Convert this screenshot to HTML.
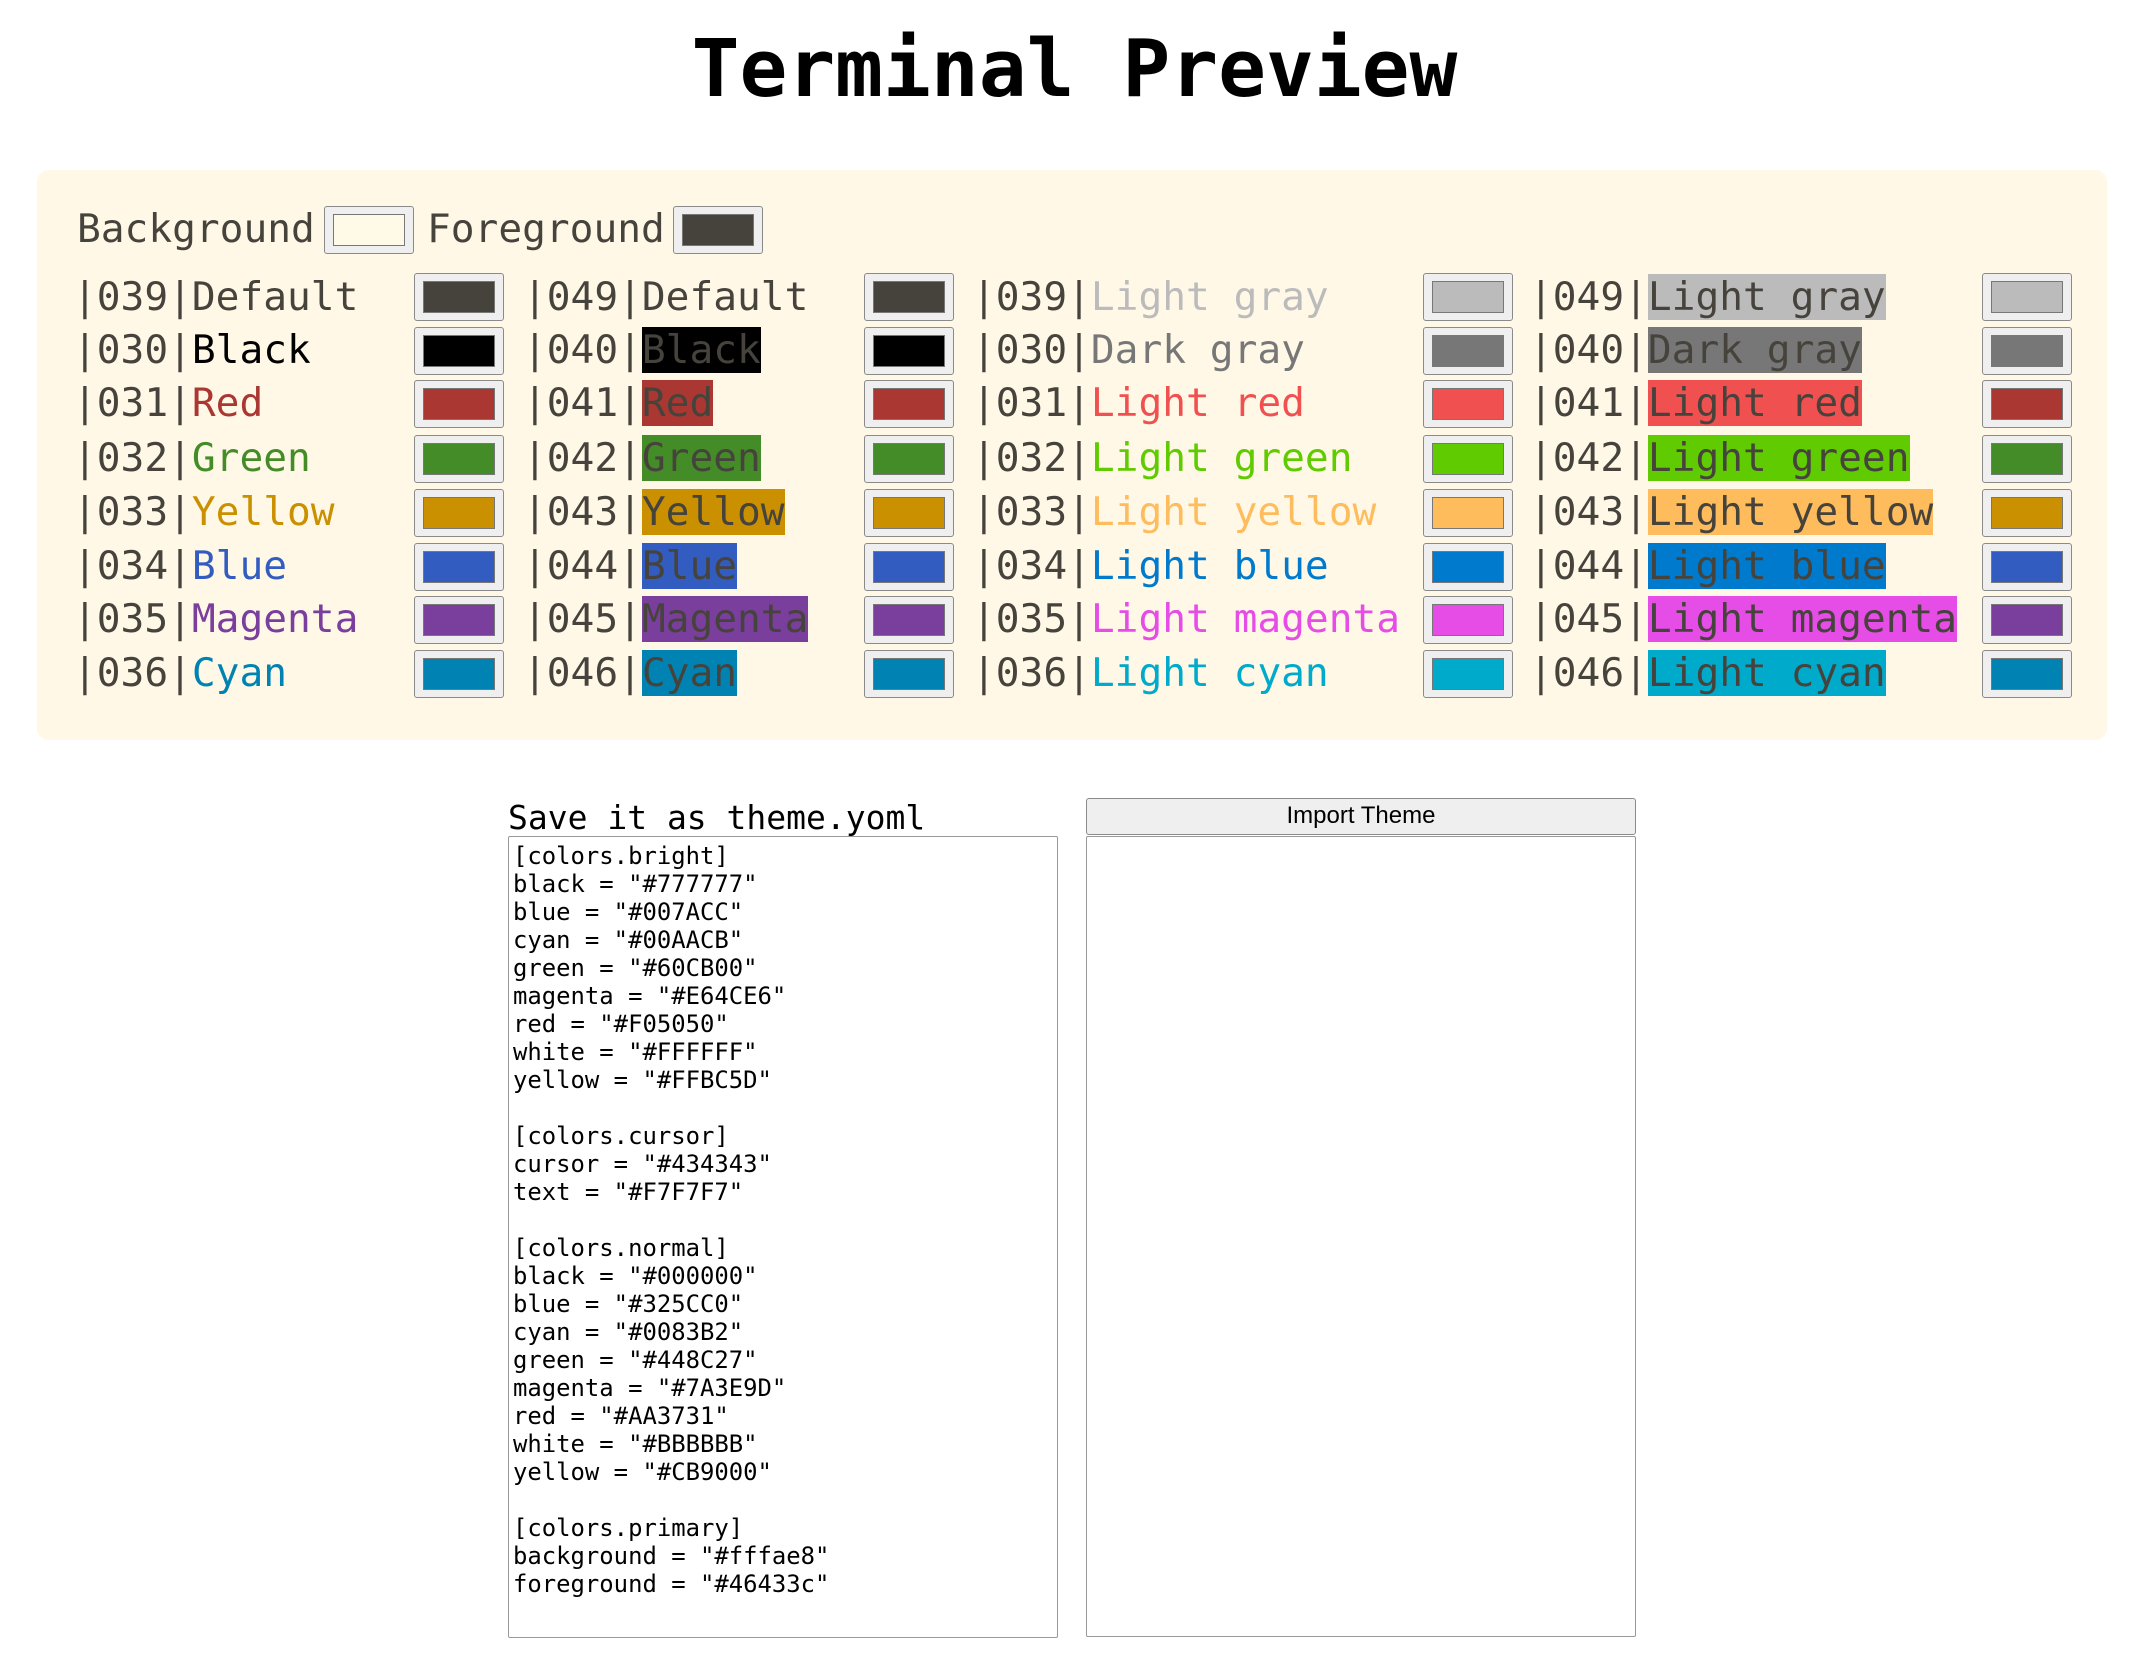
<!DOCTYPE html>
<html><head><meta charset="utf-8"><style>
*{box-sizing:border-box;margin:0;padding:0}
body{width:2149px;height:1659px;background:#fff;position:relative;overflow:hidden;font-family:"DejaVu Sans Mono","Liberation Mono",monospace;color:#46433c}
h1{position:absolute;left:0;width:2149px;top:19px;text-align:center;font-size:79.5px;font-weight:bold;color:#000;line-height:100px}
.panel{position:absolute;left:37px;top:170px;width:2070px;height:570px;background:#fff8e7;border-radius:12px}
.t{position:absolute;font-size:39.5px;line-height:48px;white-space:pre;margin-left:-4px}
.t span{line-height:46px;display:inline-block}
.sw{position:absolute;width:90px;height:48px;background:#efefef;border:1.5px solid #8a8a8a;border-radius:3px}
.sw i{position:absolute;left:8px;right:8px;top:7px;bottom:7px;border:1px solid #777}
.lab{position:absolute;font-size:33px;line-height:40px;white-space:pre;color:#000}
.ta{position:absolute;border:1.5px solid #999;background:#fff;border-radius:2px}
.code{position:absolute;left:513px;top:842px;font-size:23.9px;line-height:28px;white-space:pre;color:#000}
.btn{position:absolute;left:1086px;top:798px;width:550px;height:37px;background:#efefef;border:1.5px solid #8a8a8a;border-radius:3px;font-family:"Liberation Sans",Arial,sans-serif;font-size:24px;line-height:34px;text-align:center;color:#000}
</style></head><body>
<h1>Terminal Preview</h1>
<div class="panel"></div>

<div class="t" style="left:81px;top:205px">Background</div>
<div class="sw" style="left:324px;top:206px"><i style="background:#fffae8"></i></div>
<div class="t" style="left:431px;top:205px">Foreground</div>
<div class="sw" style="left:673px;top:206px"><i style="background:#46433c"></i></div>

<div class="t" style="left:77px;top:273px">|039|Default</div>
<div class="t" style="left:77px;top:326px">|030|<span style="color:#000">Black</span></div>
<div class="t" style="left:77px;top:379px">|031|<span style="color:#AA3731">Red</span></div>
<div class="t" style="left:77px;top:434px">|032|<span style="color:#448C27">Green</span></div>
<div class="t" style="left:77px;top:488px">|033|<span style="color:#CB9000">Yellow</span></div>
<div class="t" style="left:77px;top:542px">|034|<span style="color:#325CC0">Blue</span></div>
<div class="t" style="left:77px;top:595px">|035|<span style="color:#7A3E9D">Magenta</span></div>
<div class="t" style="left:77px;top:649px">|036|<span style="color:#0083B2">Cyan</span></div>

<div class="t" style="left:527px;top:273px">|049|Default</div>
<div class="t" style="left:527px;top:326px">|040|<span style="background:#000">Black</span></div>
<div class="t" style="left:527px;top:379px">|041|<span style="background:#AA3731">Red</span></div>
<div class="t" style="left:527px;top:434px">|042|<span style="background:#448C27">Green</span></div>
<div class="t" style="left:527px;top:488px">|043|<span style="background:#CB9000">Yellow</span></div>
<div class="t" style="left:527px;top:542px">|044|<span style="background:#325CC0">Blue</span></div>
<div class="t" style="left:527px;top:595px">|045|<span style="background:#7A3E9D">Magenta</span></div>
<div class="t" style="left:527px;top:649px">|046|<span style="background:#0083B2">Cyan</span></div>

<div class="t" style="left:976px;top:273px">|039|<span style="color:#BBBBBB">Light gray</span></div>
<div class="t" style="left:976px;top:326px">|030|<span style="color:#777777">Dark gray</span></div>
<div class="t" style="left:976px;top:379px">|031|<span style="color:#F05050">Light red</span></div>
<div class="t" style="left:976px;top:434px">|032|<span style="color:#60CB00">Light green</span></div>
<div class="t" style="left:976px;top:488px">|033|<span style="color:#FFBC5D">Light yellow</span></div>
<div class="t" style="left:976px;top:542px">|034|<span style="color:#007ACC">Light blue</span></div>
<div class="t" style="left:976px;top:595px">|035|<span style="color:#E64CE6">Light magenta</span></div>
<div class="t" style="left:976px;top:649px">|036|<span style="color:#00AACB">Light cyan</span></div>

<div class="t" style="left:1533px;top:273px">|049|<span style="background:#BBBBBB">Light gray</span></div>
<div class="t" style="left:1533px;top:326px">|040|<span style="background:#777777">Dark gray</span></div>
<div class="t" style="left:1533px;top:379px">|041|<span style="background:#F05050">Light red</span></div>
<div class="t" style="left:1533px;top:434px">|042|<span style="background:#60CB00">Light green</span></div>
<div class="t" style="left:1533px;top:488px">|043|<span style="background:#FFBC5D">Light yellow</span></div>
<div class="t" style="left:1533px;top:542px">|044|<span style="background:#007ACC">Light blue</span></div>
<div class="t" style="left:1533px;top:595px">|045|<span style="background:#E64CE6">Light magenta</span></div>
<div class="t" style="left:1533px;top:649px">|046|<span style="background:#00AACB">Light cyan</span></div>

<div class="sw" style="left:414px;top:273px"><i style="background:#46433c"></i></div>
<div class="sw" style="left:414px;top:327px"><i style="background:#000"></i></div>
<div class="sw" style="left:414px;top:380px"><i style="background:#AA3731"></i></div>
<div class="sw" style="left:414px;top:435px"><i style="background:#448C27"></i></div>
<div class="sw" style="left:414px;top:489px"><i style="background:#CB9000"></i></div>
<div class="sw" style="left:414px;top:543px"><i style="background:#325CC0"></i></div>
<div class="sw" style="left:414px;top:596px"><i style="background:#7A3E9D"></i></div>
<div class="sw" style="left:414px;top:650px"><i style="background:#0083B2"></i></div>

<div class="sw" style="left:864px;top:273px"><i style="background:#46433c"></i></div>
<div class="sw" style="left:864px;top:327px"><i style="background:#000"></i></div>
<div class="sw" style="left:864px;top:380px"><i style="background:#AA3731"></i></div>
<div class="sw" style="left:864px;top:435px"><i style="background:#448C27"></i></div>
<div class="sw" style="left:864px;top:489px"><i style="background:#CB9000"></i></div>
<div class="sw" style="left:864px;top:543px"><i style="background:#325CC0"></i></div>
<div class="sw" style="left:864px;top:596px"><i style="background:#7A3E9D"></i></div>
<div class="sw" style="left:864px;top:650px"><i style="background:#0083B2"></i></div>

<div class="sw" style="left:1423px;top:273px"><i style="background:#BBBBBB"></i></div>
<div class="sw" style="left:1423px;top:327px"><i style="background:#777777"></i></div>
<div class="sw" style="left:1423px;top:380px"><i style="background:#F05050"></i></div>
<div class="sw" style="left:1423px;top:435px"><i style="background:#60CB00"></i></div>
<div class="sw" style="left:1423px;top:489px"><i style="background:#FFBC5D"></i></div>
<div class="sw" style="left:1423px;top:543px"><i style="background:#007ACC"></i></div>
<div class="sw" style="left:1423px;top:596px"><i style="background:#E64CE6"></i></div>
<div class="sw" style="left:1423px;top:650px"><i style="background:#00AACB"></i></div>

<div class="sw" style="left:1982px;top:273px"><i style="background:#BBBBBB"></i></div>
<div class="sw" style="left:1982px;top:327px"><i style="background:#777777"></i></div>
<div class="sw" style="left:1982px;top:380px"><i style="background:#AA3731"></i></div>
<div class="sw" style="left:1982px;top:435px"><i style="background:#448C27"></i></div>
<div class="sw" style="left:1982px;top:489px"><i style="background:#CB9000"></i></div>
<div class="sw" style="left:1982px;top:543px"><i style="background:#325CC0"></i></div>
<div class="sw" style="left:1982px;top:596px"><i style="background:#7A3E9D"></i></div>
<div class="sw" style="left:1982px;top:650px"><i style="background:#0083B2"></i></div>

<div class="lab" style="left:508px;top:798px">Save it as theme.yoml</div>
<div class="ta" style="left:508px;top:836px;width:550px;height:802px"></div>
<div class="code">[colors.bright]
black = "#777777"
blue = "#007ACC"
cyan = "#00AACB"
green = "#60CB00"
magenta = "#E64CE6"
red = "#F05050"
white = "#FFFFFF"
yellow = "#FFBC5D"

[colors.cursor]
cursor = "#434343"
text = "#F7F7F7"

[colors.normal]
black = "#000000"
blue = "#325CC0"
cyan = "#0083B2"
green = "#448C27"
magenta = "#7A3E9D"
red = "#AA3731"
white = "#BBBBBB"
yellow = "#CB9000"

[colors.primary]
background = "#fffae8"
foreground = "#46433c"</div>
<div class="btn">Import Theme</div>
<div class="ta" style="left:1086px;top:836px;width:550px;height:801px"></div>
</body></html>
